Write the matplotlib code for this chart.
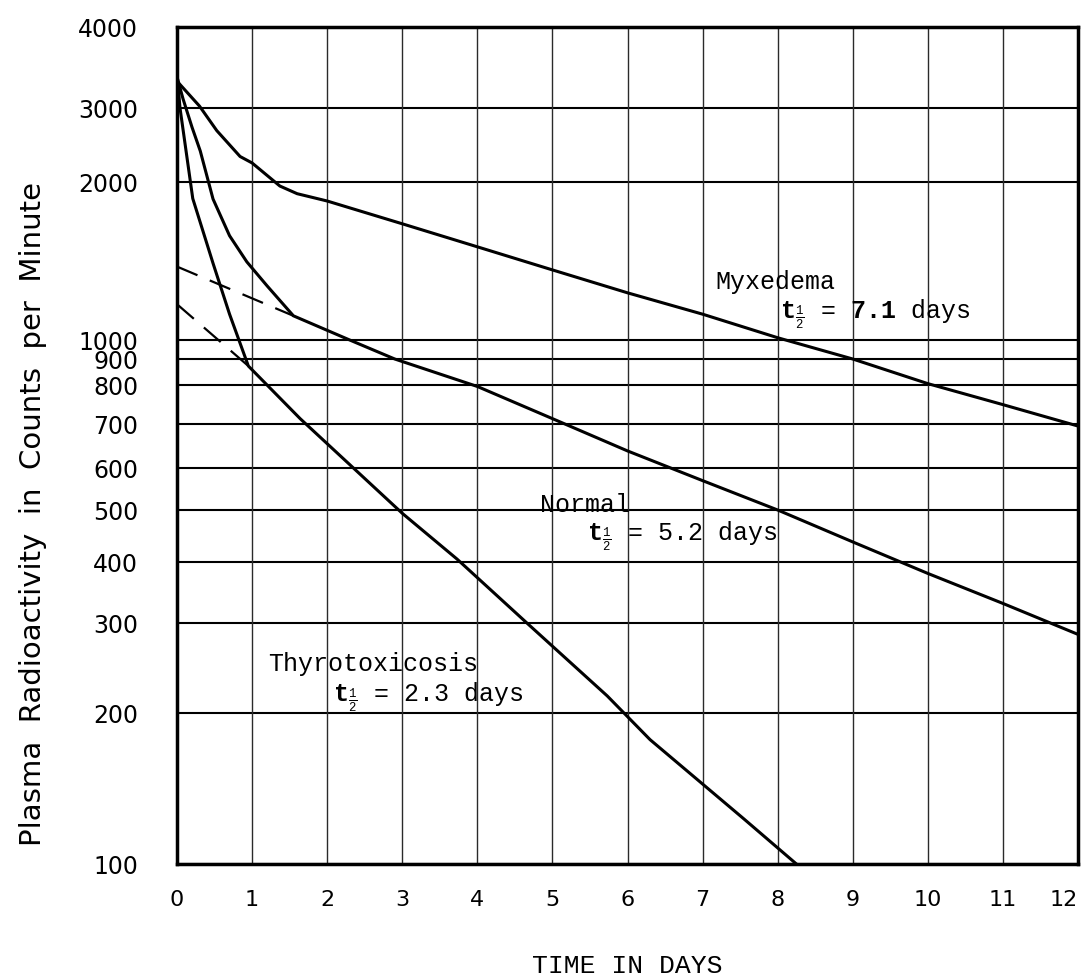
import numpy as np
import matplotlib
matplotlib.use('Agg')  # no display
import matplotlib.pyplot as plt

# --- values ---
myx_days = [0, 0.3, 0.53, 0.84, 1.0, 1.37, 1.6, 2, 3, 4, 5, 6, 7, 8, 9, 10, 11, 12]
myx_counts = [3300, 3020, 2650, 2300, 2220, 1965, 1900, 1840, 1665, 1505, 1360,
              1230, 1120, 1010, 900, 805, 748, 695]

norm_days = [0, 0.08, 0.2, 0.31, 0.48, 0.7, 0.93, 1.2, 1.55, 2.3, 2.9, 4, 5, 6, 7,
             8, 9, 10, 11, 12]
norm_counts = [3350, 3100, 2700, 2370, 1856, 1580, 1409, 1268, 1112, 1000, 900,
               796, 713, 637, 568, 500, 436, 379, 329, 285]
norm_dash_days = [0, 1.55]
norm_dash_counts = [1380, 1112]

thyro_days = [0, 0.04, 0.21, 0.48, 0.7, 0.95, 1.64, 3, 3.73, 4.66, 5.73, 6.3, 7.55, 8.25]
thyro_counts = [3400, 3000, 1860, 1400, 1120, 872, 713, 493, 405, 300, 216,
                177, 123, 100]
thyro_dash_days = [0, 0.95]
thyro_dash_counts = [1170, 872]

day_ticks = list(range(0, 13))
count_ticks = [100, 200, 300, 400, 500, 600, 700, 800, 900, 1000, 2000, 3000, 4000]
count_labels = ['100', '200', '300', '400', '500', '600', '700', '800', '900',
                '1000', '2000', '3000', '4000']

# the log paper is hand ruled, so the lines are not exactly logarithmic:
# pixel rows of each ruled line (from the top of the sheet)
ruled_rows = [865, 714, 624, 563, 511, 469, 425, 386, 360, 341, 183, 109, 28]
log_ticks = np.log10(count_ticks)


def fwd(v):
    v = np.asarray(v, dtype=float)
    with np.errstate(divide='ignore', invalid='ignore'):
        lv = np.log10(np.where(v > 0, v, np.nan))
    return -np.interp(lv, log_ticks, ruled_rows)


def inv(y):
    y = np.asarray(y, dtype=float)
    return 10 ** np.interp(-y, [-r for r in ruled_rows], log_ticks)


plt.rcParams['mathtext.fontset'] = 'custom'
plt.rcParams['mathtext.rm'] = 'Liberation Mono'
plt.rcParams['mathtext.bf'] = 'Liberation Mono:bold'

fig = plt.figure(figsize=(10.88, 9.79), dpi=100)
ax = fig.add_axes([177 / 1088, 1 - 865 / 979, 901 / 1088, (865 - 28) / 979])
ax.set_yscale('function', functions=(fwd, inv))
ax.set_xlim(0, 12)
ax.set_ylim(100, 4000)

# ruled paper
for c in count_ticks:
    ax.axhline(c, color='black', lw=1.5, zorder=1)
for d in day_ticks:
    ax.axvline(d, color='#2a2a2a', lw=1.0, zorder=1)

# curves
ax.plot(myx_days, myx_counts, color='black', lw=2.2, zorder=3)
ax.plot(norm_days, norm_counts, color='black', lw=2.2, zorder=3)
ax.plot(thyro_days, thyro_counts, color='black', lw=2.2, zorder=3)
ax.plot(norm_dash_days, norm_dash_counts, color='black', lw=1.6,
        linestyle=(0, (10, 6)), zorder=3)
ax.plot(thyro_dash_days, thyro_dash_counts, color='black', lw=1.6,
        linestyle=(0, (10, 6)), zorder=3)

# typed labels
mono = 'Liberation Mono'
ax.text(7.17, 1294, 'Myxedema', family=mono, fontsize=18, va='center')
ax.text(8.03, 1122, r'$\mathbf{t}_{\frac{1}{2}}$ = $\mathbf{7.1}$ days',
        family=mono, fontsize=18, va='center')
ax.text(4.83, 513, 'Normal', family=mono, fontsize=18, va='center')
ax.text(5.46, 448, r'$\mathbf{t}_{\frac{1}{2}}$ = 5.2 days',
        family=mono, fontsize=18, va='center')
ax.text(1.21, 251, 'Thyrotoxicosis', family=mono, fontsize=18, va='center')
ax.text(2.08, 216, r'$\mathbf{t}_{\frac{1}{2}}$ = 2.3 days',
        family=mono, fontsize=18, va='center')

ax.set_xticks(day_ticks)
ax.set_xticklabels([str(d) for d in day_ticks], fontsize=16)
ax.get_xticklabels()[-1].set_horizontalalignment('right')
ax.set_yticks(count_ticks, count_labels, fontsize=17)
ax.minorticks_off()
ax.tick_params(axis='both', length=0)
ax.tick_params(axis='y', pad=28)
ax.tick_params(axis='x', pad=18)

for s in ax.spines.values():
    s.set_linewidth(2.5)

ax.set_xlabel('TIME IN DAYS', family=mono, fontsize=19, labelpad=32)
fig.text(33 / 1088, 1 - 514 / 979, 'Plasma  Radioactivity  in  Counts  per  Minute',
         rotation=90, ha='center', va='center', fontsize=21)

plt.savefig('out.png', dpi=100)
